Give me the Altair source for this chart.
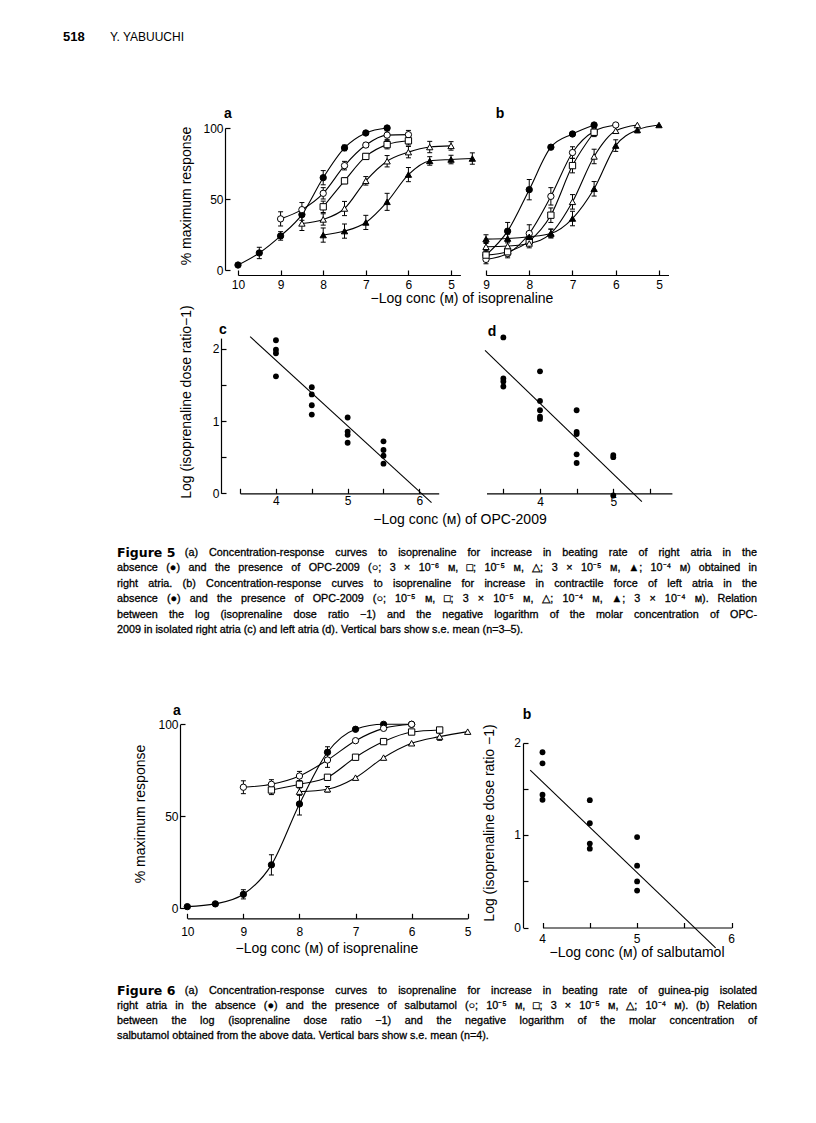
import altair as alt
import pandas as pd

FONT = "Liberation Sans"
W, H = 800, 1107
M = 8  # page margin

# ---------------- Figure 5a : right atria, beating rate ----------------
F5A_CTRL_X = [10, 9.5, 9, 8.5, 8, 7.5, 7, 6.5]
F5A_CTRL_Y = [3.5, 12, 24, 39, 65, 86, 96.5, 100]
F5A_CTRL_E = [0, 4, 3, 4, 5, 2, 1, 0]
F5A_OC_X = [9, 8.5, 8, 7.5, 7, 6.5, 6]
F5A_OC_Y = [36, 42.5, 54, 73.5, 88, 95, 95.3]
F5A_OC_E = [5, 5, 4, 3, 1.5, 3, 3]
F5A_SQ_X = [8, 7.5, 7, 6.5, 6]
F5A_SQ_Y = [44.5, 62.8, 80, 88.3, 91]
F5A_SQ_E = [4, 2, 2, 3, 3]
F5A_OT_X = [8.5, 8, 7.5, 7, 6.5, 6, 5.5, 5]
F5A_OT_Y = [32.8, 35.6, 43.3, 62.8, 76.6, 83, 86.6, 87.4]
F5A_OT_E = [5, 4, 5, 3, 4, 4, 4, 3]
F5A_FT_X = [8, 7.5, 7, 6.5, 6, 5.5, 5, 4.5]
F5A_FT_Y = [24.6, 27.4, 33.5, 48, 67.2, 76.8, 77.8, 78.5]
F5A_FT_E = [5, 5, 5, 6, 5, 3, 3, 4]

# ---------------- Figure 5b : left atria, contractile force ----------------
F5B_CTRL_X = [9, 8.5, 8, 7.5, 7, 6.5]
F5B_CTRL_Y = [10.3, 26.8, 55.4, 84.7, 93.8, 100]
F5B_CTRL_E = [0, 6, 7, 0, 0, 0]
F5B_OC_X = [9, 8.5, 8, 7.5, 7, 6.5, 6]
F5B_OC_Y = [7.3, 11.4, 25.2, 50.8, 81, 95.7, 100]
F5B_OC_E = [3, 3, 6, 6, 4, 3, 0]
F5B_SQ_X = [9, 8.5, 8, 7.5, 7, 6.5]
F5B_SQ_Y = [10.3, 12.6, 19.9, 37.8, 72, 95]
F5B_SQ_E = [3, 3, 3, 5, 5, 3]
F5B_OT_X = [9, 8.5, 8, 7.5, 7, 6.5, 6, 5.5]
F5B_OT_Y = [16, 16.5, 18.3, 25.2, 47, 78.3, 96, 100]
F5B_OT_E = [3, 3, 3, 3, 5, 5, 0, 0]
F5B_FT_X = [9, 8.5, 8, 7.5, 7, 6.5, 6, 5.5, 5]
F5B_FT_Y = [21.3, 21.7, 22.9, 25.2, 35.5, 56, 85.8, 96.6, 100]
F5B_FT_E = [3, 3, 3, 3, 5, 5, 4, 2, 0]

# ---------------- Figure 5c / 5d : Schild plots ----------------
F5C_X = [4, 4, 4, 4, 4.5, 4.5, 4.5, 4.5, 5, 5, 5, 5, 5.5, 5.5, 5.5, 5.5]
F5C_Y = [2.12, 1.99, 1.94, 1.62, 1.47, 1.37, 1.22, 1.09,
         1.05, 0.855, 0.81, 0.70, 0.72, 0.60, 0.52, 0.41]
F5C_FIT_X = [3.64, 6.17]
F5C_FIT_Y = [2.17, -0.13]
F5D_X = [3.5, 3.5, 3.5, 3.5, 4, 4, 4, 4, 4, 4.5, 4.5, 4.5, 4.5, 4.5, 5, 5, 5]
F5D_Y = [2.16, 1.59, 1.55, 1.48, 1.69, 1.28, 1.15, 1.06, 1.03,
         1.15, 0.85, 0.82, 0.54, 0.42, 0.53, 0.50, -0.03]
F5D_FIT_X = [3.25, 5.39]
F5D_FIT_Y = [1.98, -0.115]

# ---------------- Figure 6a : salbutamol ----------------
F6A_CTRL_X = [10, 9.5, 9, 8.5, 8, 7.5, 7, 6.5, 6]
F6A_CTRL_Y = [0.9, 2.4, 7.6, 23.6, 56.7, 84.8, 97.3, 100, 100]
F6A_CTRL_E = [0, 0, 2.5, 5.5, 6, 3, 0, 0, 0]
F6A_OC_X = [9, 8.5, 8, 7.5, 7, 6.5, 6]
F6A_OC_Y = [65.8, 67.4, 71.9, 80.6, 91.1, 97.8, 100]
F6A_OC_E = [3.5, 2.5, 2.5, 4, 0, 0, 0]
F6A_SQ_X = [8.5, 8, 7.5, 7, 6.5, 6, 5.5]
F6A_SQ_Y = [64.3, 67.4, 71.2, 82.1, 90.6, 95.8, 96.9]
F6A_SQ_E = [2.5, 0, 0, 0, 0, 0, 0]
F6A_OT_X = [8, 7.5, 7, 6.5, 6, 5.5, 5]
F6A_OT_Y = [63.4, 64.7, 71, 81.9, 89.7, 93.3, 96]
F6A_OT_E = [2, 1.5, 0, 0, 0, 2, 0]

# ---------------- Figure 6b : Schild plot ----------------
F6B_X = [4, 4, 4, 4, 4.5, 4.5, 4.5, 4.5, 5, 5, 5, 5]
F6B_Y = [1.90, 1.78, 1.44, 1.385, 1.38, 1.13, 0.91, 0.855, 0.98, 0.67, 0.50, 0.40]
F6B_FIT_X = [3.87, 5.83]
F6B_FIT_Y = [1.705, -0.22]

# ---------------- tick values ----------------
TICKS_10_5 = [10, 9, 8, 7, 6, 5]
TICKS_9_5 = [9, 8, 7, 6, 5]
TICKS_PCT = [0, 50, 100]
TICKS_5C_X = [3.5, 4, 4.5, 5, 5.5, 6]
LABELS_5C_X = [4, 5, 6]
TICKS_5D_X = [3.5, 4, 4.5, 5, 5.5]
LABELS_5D_X = [4, 5]
TICKS_6B_X = [4, 4.5, 5, 5.5, 6]
LABELS_6B_X = [4, 5, 6]
TICKS_LOG = [0, 0.5, 1, 1.5, 2]
LABELS_LOG = [0, 1, 2]

SERIES = ["ctrl", "oc", "sq", "ot", "ft"]
SHAPES = ["circle", "circle", "square", "triangle-up", "triangle-up"]
FILLS = ["black", "white", "white", "white", "black"]

# ---------------- texts ----------------
HEADER_NUM = "518"
HEADER_AUTH = "Y. YABUUCHI"
T_PCT = "% maximum response"
T_ISO = "\u2212Log conc (\u1d0d) of isoprenaline"
T_OPC = "\u2212Log conc (\u1d0d) of OPC-2009"
T_SAL = "\u2212Log conc (\u1d0d) of salbutamol"
T_DR5 = "Log (isoprenaline dose ratio\u22121)"
T_DR6 = "Log (isoprenaline dose ratio \u22121)"
CAP5_LABEL = "Figure 5"
CAP5 = [
    "(a) Concentration-response curves to isoprenaline for increase in beating rate of right atria in the",
    "absence (\u25cf) and the presence of OPC-2009 (\u25cb; 3 \u00d7 10\u207b\u2076 \u1d0d, \u25a1; 10\u207b\u2075 \u1d0d, \u25b3; 3 \u00d7 10\u207b\u2075 \u1d0d, \u25b2; 10\u207b\u2074 \u1d0d) obtained in",
    "right atria. (b) Concentration-response curves to isoprenaline for increase in contractile force of left atria in the",
    "absence (\u25cf) and the presence of OPC-2009 (\u25cb; 10\u207b\u2075 \u1d0d, \u25a1; 3 \u00d7 10\u207b\u2075 \u1d0d, \u25b3; 10\u207b\u2074 \u1d0d, \u25b2; 3 \u00d7 10\u207b\u2074 \u1d0d). Relation",
    "between the log (isoprenaline dose ratio \u22121) and the negative logarithm of the molar concentration of OPC-",
    "2009 in isolated right atria (c) and left atria (d). Vertical bars show s.e. mean (n=3\u20135).",
]
CAP6_LABEL = "Figure 6"
CAP6 = [
    "(a) Concentration-response curves to isoprenaline for increase in beating rate of guinea-pig isolated",
    "right atria in the absence (\u25cf) and the presence of salbutamol (\u25cb; 10\u207b\u2075 \u1d0d, \u25a1; 3 \u00d7 10\u207b\u2075 \u1d0d, \u25b3; 10\u207b\u2074 \u1d0d). (b) Relation",
    "between the log (isoprenaline dose ratio \u22121) and the negative logarithm of the molar concentration of",
    "salbutamol obtained from the above data. Vertical bars show s.e. mean (n=4).",
]

# ---------------- helpers ----------------
AW = {}
for chars, w in [("ijl", 222), (" !,./:;I[]ft", 278), ("r()-", 333), ("*", 389),
                 ("ckszvxyJ", 500), ("0123456789abdeghnopqu$#_?L", 556),
                 ("+<=>~\u00d7\u2212", 584), ("FTZ", 611), ("ABEKPSVXY", 667),
                 ("CDHNRUw", 722), ("GOQ", 778), ("mM", 833), ("%", 889), ("W", 944),
                 ("\u25cf\u25cb\u25a1", 604), ("\u25b2", 990), ("\u25b3", 770),
                 ("\u207b\u2074\u2075\u2076", 400), ("\u1d0d", 650), ("\u2013", 556)]:
    for c in chars:
        AW[c] = w
# DejaVu Sans Bold advance widths for the figure labels
BW = {"F": 575, "i": 343, "g": 716, "u": 712, "r": 493, "e": 678, " ": 348}
BOLD_FONT = "DejaVu Sans"


def tw(s, size, bold=False):
    tab = BW if bold else AW
    return sum(tab.get(c, 696 if bold else 556) for c in s) * size / 1000.0


def caption(label, lines, y0, lh, size, bsize, x0=117, x1=757):
    words, bold = [], []
    for k, line in enumerate(lines):
        y = y0 + k * lh
        start = x0
        if k == 0:
            bold.append(dict(t=label, px=x0 - M, py=y - M))
            start = x0 + tw(label, bsize, True) + 1.0 * size
        toks = line.split(" ")
        ws = [tw(t, size) for t in toks]
        if k == len(lines) - 1:
            gap = 278 * size / 1000.0
        else:
            gap = max((x1 - start - sum(ws)) / (len(toks) - 1), 0.2 * size)
        x = start
        for t, wd in zip(toks, ws):
            words.append(dict(t=t, px=x - M, py=y - M))
            x += wd + gap
    return words, bold


def sdf(items):
    rows = []
    for name, xs, ys, es in items:
        for x, y, e in zip(xs, ys, es):
            rows.append(dict(s=name, x=x, y=y, e=e, lo=y - e, hi=y + e))
    return pd.DataFrame(rows)


def sc(dom, px, off):
    return alt.Scale(domain=dom, range=[px[0] - off, px[1] - off], nice=False, zero=False)


def x_label_axis(values, line_y, pad, show=True):
    return alt.Axis(orient="bottom", offset=(line_y - M) - H, values=values, format="d",
                    tickCount=100, ticks=False, tickSize=0, domain=True, labels=show,
                    labelPadding=pad, labelOverlap=False, labelFlush=False, title=None, grid=False)


def x_tick_axis(values, line_y):
    return alt.Axis(orient="top", offset=-(line_y - M), values=values, tickCount=100,
                    ticks=True, tickSize=5, domain=False, labels=False, title=None, grid=False)


def y_label_axis(values, ax_x, show=True):
    return alt.Axis(orient="left", offset=-(ax_x - M), values=values, format="d",
                    tickCount=100, ticks=False, tickSize=0, domain=True, labels=show,
                    labelPadding=2, labelOverlap=False, labelFlush=False, title=None, grid=False)


def y_tick_axis(values, ax_x):
    return alt.Axis(orient="right", offset=(ax_x - M) - W, values=values, tickCount=100,
                    ticks=True, tickSize=5, domain=False, labels=False, title=None, grid=False)


def curve_panel(df, g):
    xs = sc(g["xdom"], g["xpx"], M)
    ys = sc(g["ydom"], g["ypx"], M)
    has_y = g.get("yaxis") is not None
    ylab = y_label_axis(g["ylabels"], g["yaxis"]) if has_y else None
    ytk = y_tick_axis(g["yticks"], g["yaxis"]) if has_y else None
    lines = alt.Chart(df).mark_line(interpolate="monotone", color="black", strokeWidth=1.1).encode(
        x=alt.X("x:Q", scale=xs, axis=x_label_axis(g["xlabels"], g["xline"], g["pad"])),
        y=alt.Y("y:Q", scale=ys, axis=ylab),
        detail="s:N",
    )
    err = df[df["e"] > 0]
    rules = alt.Chart(err).mark_rule(color="black", strokeWidth=1).encode(
        x=alt.X("x:Q", scale=xs, axis=None),
        y=alt.Y("lo:Q", scale=ys, axis=None),
        y2="hi:Q",
    )
    caps_df = pd.concat([err.assign(yc=err["lo"]), err.assign(yc=err["hi"])])
    caps = alt.Chart(caps_df).mark_tick(orient="horizontal", size=5, thickness=1,
                                        color="black", opacity=1).encode(
        x=alt.X("x:Q", scale=xs, axis=None),
        y=alt.Y("yc:Q", scale=ys, axis=None),
    )
    pts = alt.Chart(df).mark_point(filled=True, stroke="black", strokeWidth=1, size=40,
                                   opacity=1).encode(
        x=alt.X("x:Q", scale=xs, axis=x_tick_axis(g["xticks"], g["xline"])),
        y=alt.Y("y:Q", scale=ys, axis=ytk),
        shape=alt.Shape("s:N", scale=alt.Scale(domain=SERIES, range=SHAPES), legend=None),
        fill=alt.Fill("s:N", scale=alt.Scale(domain=SERIES, range=FILLS), legend=None),
    )
    return [lines, rules, caps, pts]


def scatter_panel(xv, yv, fx, fy, g, text_labels=False):
    xs = sc(g["xdom"], g["xpx"], M)
    ys = sc(g["ydom"], g["ypx"], M)
    has_y = g.get("yaxis") is not None
    ylab = y_label_axis(g["ylabels"], g["yaxis"], not text_labels) if has_y else None
    ytk = y_tick_axis(g["yticks"], g["yaxis"]) if has_y else None
    fit = alt.Chart(pd.DataFrame({"x": fx, "y": fy})).mark_line(color="black", strokeWidth=1.1).encode(
        x=alt.X("x:Q", scale=xs,
                axis=x_label_axis(g["xlabels"], g["xline"], g["pad"], not text_labels)),
        y=alt.Y("y:Q", scale=ys, axis=ylab),
    )
    pts = alt.Chart(pd.DataFrame({"x": xv, "y": yv})).mark_circle(color="black", size=34, opacity=1).encode(
        x=alt.X("x:Q", scale=xs, axis=x_tick_axis(g["xticks"], g["xline"])),
        y=alt.Y("y:Q", scale=ys, axis=ytk),
    )
    out = [fit, pts]
    if text_labels:
        # tick labels placed through the panel's own scales
        xl = pd.DataFrame({"v": g["xlabels"], "t": [str(v) for v in g["xlabels"]]})
        out.append(alt.Chart(xl).mark_text(font=FONT, fontSize=12, baseline="top", align="center",
                                           color="black").encode(
            x=alt.X("v:Q", scale=xs, axis=None),
            y=alt.value(g["xline"] - M + g["pad"]),
            text="t:N",
        ))
        yl = pd.DataFrame({"v": g["ylabels"], "t": [str(v) for v in g["ylabels"]]})
        out.append(alt.Chart(yl).mark_text(font=FONT, fontSize=12, baseline="middle", align="right",
                                           color="black").encode(
            x=alt.value(g["yaxis"] - M - 2),
            y=alt.Y("v:Q", scale=ys, axis=None),
            text="t:N",
        ))
    return out


def text_layer(rows, size, weight="normal", angle=0, align="left", font=FONT, stroke_w=0.0):
    props = dict(font=font, fontSize=size, fontWeight=weight, angle=angle, align=align,
                 baseline="middle", color="black")
    if stroke_w > 0:
        props.update(stroke="black", strokeWidth=stroke_w)
    return alt.Chart(pd.DataFrame(rows)).mark_text(**props).encode(
        x=alt.X("px:Q", scale=None, axis=None),
        y=alt.Y("py:Q", scale=None, axis=None),
        text="t:N",
    )


def at(t, x, y):
    return dict(t=t, px=x - M, py=y - M)


# ---------------- geometry (page pixels) ----------------
G5A = dict(xdom=[10, 4.78], xpx=[238, 460.4], ydom=[0, 100], ypx=[270, 128], xline=275, pad=4,
           yaxis=225, xticks=TICKS_10_5, xlabels=TICKS_10_5, yticks=TICKS_PCT, ylabels=TICKS_PCT)
G5B = dict(xdom=[9, 4.78], xpx=[486, 668.5], ydom=[0, 100], ypx=[270, 125], xline=275, pad=4,
           yaxis=None, xticks=TICKS_9_5, xlabels=TICKS_9_5)
G5C = dict(xdom=[3.5, 6.27], xpx=[240.1, 438.7], ydom=[0, 2.15], ypx=[493.3, 338.1], xline=493.3,
           pad=2, yaxis=221, xticks=TICKS_5C_X, xlabels=LABELS_5C_X, yticks=TICKS_LOG,
           ylabels=LABELS_LOG)
G5D = dict(xdom=[3.27, 5.8], xpx=[486.5, 671.9], ydom=[0, 2.15], ypx=[493.3, 338.1], xline=493.3,
           pad=3, yaxis=None, xticks=TICKS_5D_X, xlabels=LABELS_5D_X)
G6A = dict(xdom=[10, 5], xpx=[187.3, 467.7], ydom=[0, 100], ypx=[908.3, 724.3], xline=918.3, pad=8,
           yaxis=180, xticks=TICKS_10_5, xlabels=TICKS_10_5, yticks=TICKS_PCT, ylabels=TICKS_PCT)
G6B = dict(xdom=[4, 6], xpx=[542.5, 731.7], ydom=[0, 2], ypx=[927.5, 743], xline=927.5, pad=6,
           yaxis=523, xticks=TICKS_6B_X, xlabels=LABELS_6B_X, yticks=TICKS_LOG, ylabels=LABELS_LOG)

df5a = sdf([("ctrl", F5A_CTRL_X, F5A_CTRL_Y, F5A_CTRL_E), ("oc", F5A_OC_X, F5A_OC_Y, F5A_OC_E),
            ("sq", F5A_SQ_X, F5A_SQ_Y, F5A_SQ_E), ("ot", F5A_OT_X, F5A_OT_Y, F5A_OT_E),
            ("ft", F5A_FT_X, F5A_FT_Y, F5A_FT_E)])
df5b = sdf([("ctrl", F5B_CTRL_X, F5B_CTRL_Y, F5B_CTRL_E), ("oc", F5B_OC_X, F5B_OC_Y, F5B_OC_E),
            ("sq", F5B_SQ_X, F5B_SQ_Y, F5B_SQ_E), ("ot", F5B_OT_X, F5B_OT_Y, F5B_OT_E),
            ("ft", F5B_FT_X, F5B_FT_Y, F5B_FT_E)])
df6a = sdf([("ctrl", F6A_CTRL_X, F6A_CTRL_Y, F6A_CTRL_E), ("oc", F6A_OC_X, F6A_OC_Y, F6A_OC_E),
            ("sq", F6A_SQ_X, F6A_SQ_Y, F6A_SQ_E), ("ot", F6A_OT_X, F6A_OT_Y, F6A_OT_E)])

layers = []
layers += curve_panel(df5a, G5A)
layers += curve_panel(df5b, G5B)
layers += scatter_panel(F5C_X, F5C_Y, F5C_FIT_X, F5C_FIT_Y, G5C)
layers += scatter_panel(F5D_X, F5D_Y, F5D_FIT_X, F5D_FIT_Y, G5D)
layers += curve_panel(df6a, G6A)
layers += scatter_panel(F6B_X, F6B_Y, F6B_FIT_X, F6B_FIT_Y, G6B, text_labels=True)

CAP_SIZE = 10.8
BOLD_SIZE = 12.5
w5, b5 = caption(CAP5_LABEL, CAP5, 553, 15.4, CAP_SIZE, BOLD_SIZE)
w6, b6 = caption(CAP6_LABEL, CAP6, 990.5, 15.2, CAP_SIZE, BOLD_SIZE)
layers.append(text_layer(w5 + w6, CAP_SIZE, stroke_w=0.3))
layers.append(text_layer(b5 + b6, BOLD_SIZE, "bold", font=BOLD_FONT))
layers.append(text_layer([at(HEADER_NUM, 63, 37)], 13, "bold"))
layers.append(text_layer([at(HEADER_AUTH, 110, 37)], 12))
layers.append(text_layer([at("a", 228, 114), at("b", 500, 114), at("c", 223, 330),
                          at("d", 492, 332), at("a", 177, 711), at("b", 527, 715)],
                         14, "bold", align="center"))
layers.append(text_layer([at(T_ISO, 462, 299), at(T_OPC, 460, 520), at(T_ISO, 327, 949),
                          at(T_SAL, 637, 953)], 14, align="center"))
layers.append(text_layer([at(T_PCT, 187, 196), at(T_DR5, 187, 402), at(T_PCT, 141, 814),
                          at(T_DR6, 490, 823)], 14, angle=270, align="center"))

chart = alt.layer(*layers).resolve_scale(x="independent", y="independent").properties(
    width=W, height=H, autosize=alt.AutoSizeParams(type="none"), padding=0, background="white"
).configure_view(stroke=None).configure_axis(
    labelFont=FONT, labelFontSize=12, labelColor="black", domainColor="black",
    tickColor="black", domainWidth=1.2, tickWidth=1.2, grid=False,
)

chart.save("out.html", embed_options={"renderer": "svg", "actions": False})
